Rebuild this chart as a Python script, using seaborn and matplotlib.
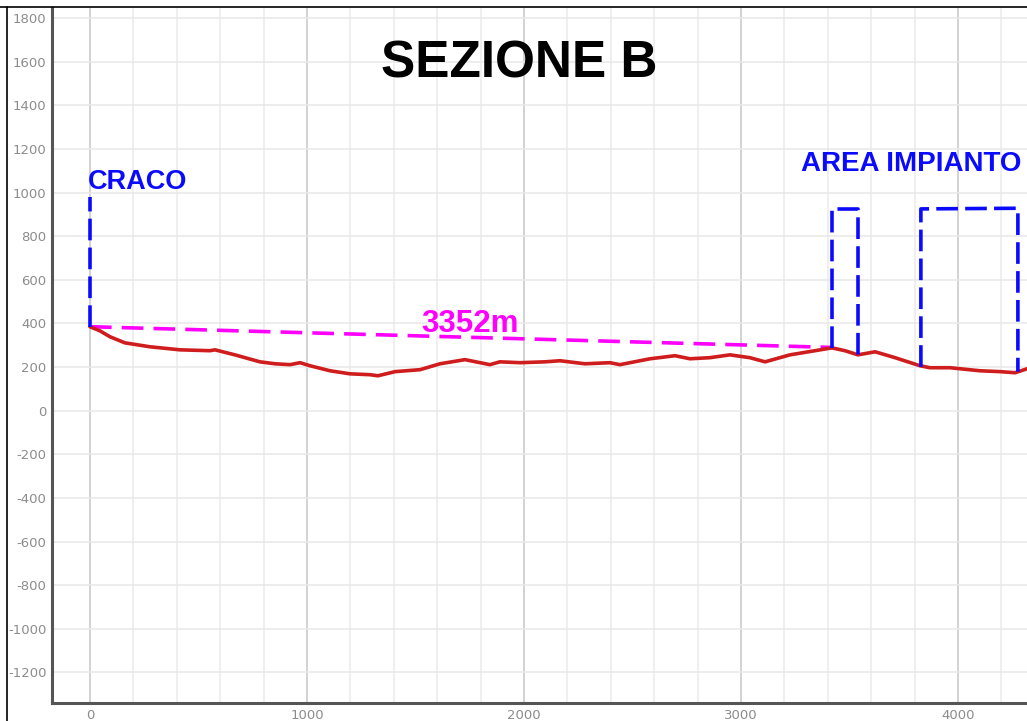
import matplotlib.pyplot as plt
import matplotlib.lines as mlines
import numpy as np
import pandas as pd
import seaborn as sns

# Terrain profile (distance in m, elevation in m).
distance = [0, 46, 92, 161, 276, 415, 553, 576, 668, 783, 853, 922, 968, 1014,
            1106, 1198, 1290, 1327, 1406, 1521, 1613, 1728, 1843, 1889, 1982,
            2097, 2166, 2281, 2396, 2442, 2581, 2696, 2765, 2857, 2949, 3041,
            3111, 3226, 3341, 3419, 3479, 3539, 3618, 3710, 3825, 3871, 3963,
            4101, 4194, 4263, 4318]
elevation = [385, 366, 339, 311, 293, 279, 275, 279, 256, 224, 215, 211, 220, 206,
             183, 169, 165, 160, 179, 188, 215, 234, 211, 224, 220,
             224, 229, 215, 220, 211, 238, 252, 238, 243, 256, 243,
             224, 256, 275, 288, 275, 256, 270, 243, 206, 197, 197,
             183, 179, 174, 192]

# Straight-line distance marker from Craco to the plant area.
dist_x = [0, 3419]
dist_y = [385, 290]
dist_label = "3352m"

# Craco marker and the two plant-area boxes.
craco_x = [0, 0]
craco_y = [385, 980]
box1_x = [3419, 3419, 3539, 3539]
box1_y = [288, 925, 925, 256]
box2_x = [3829, 3829, 4276, 4276]
box2_y = [201, 925, 928, 179]

x_ticks = [0, 1000, 2000, 3000, 4000]
y_ticks = list(range(-1200, 1801, 200))

sns.set_style("white")
plt.rcParams["font.family"] = ["DejaVu Sans"]
plt.rcParams["axes.unicode_minus"] = False

fig = plt.figure(figsize=(10.27, 7.21), dpi=100)
ax = fig.add_axes([52 / 1027, 18 / 721, 1 - 52 / 1027, 1 - 26 / 721])

# Grid: light minor lines every 200, darker verticals every 1000.
for gx in range(-200, 4401, 200):
    col = "#c6c6c6" if gx % 1000 == 0 else "#ebebeb"
    ax.axvline(gx, color=col, lw=1.1, zorder=0)
for gy in y_ticks:
    ax.axhline(gy, color="#e8e8e8", lw=1.1, zorder=0)

profile = pd.DataFrame({"distance": distance, "elevation": elevation})
sns.lineplot(data=profile, x="distance", y="elevation", ax=ax,
             color="#cf1c1c", lw=2.6, sort=False, zorder=4)

ax.plot(dist_x, dist_y, color="#ff00ff", lw=2.6, dashes=(6, 2.8), zorder=3)
ax.plot(craco_x, craco_y, color="#0a0aff", lw=2.6, dashes=(6, 2), zorder=5)
ax.plot(box1_x, box1_y, color="#0a0aff", lw=2.6, dashes=(6, 2), zorder=5)
ax.plot(box2_x, box2_y, color="#0a0aff", lw=2.6, dashes=(6, 2), zorder=5)

ax.text(1980, 1590, "SEZIONE B", fontsize=37, fontweight="bold",
        family="Liberation Sans", ha="center", va="center", color="black")
ax.text(-10, 1050, "CRACO", fontsize=19.5, fontweight="bold",
        family="Liberation Sans", ha="left", va="center", color="#0a0aff")
ax.text(4294, 1130, "AREA IMPIANTO", fontsize=20, fontweight="bold",
        family="Liberation Sans", ha="right", va="center", color="#0a0aff")
ax.text(1528, 398, dist_label, fontsize=22.5, fontweight="bold",
        family="Liberation Sans", ha="left", va="center", color="#ff00ff")

ax.set_xlim(-175, 4318)
ax.set_ylim(-1340, 1846)
ax.set_xticks(x_ticks)
ax.set_yticks(y_ticks)
ax.tick_params(axis="both", length=0, labelsize=9.5, labelcolor="#8c8c8c")
ax.tick_params(axis="y", pad=4)
ax.tick_params(axis="x", pad=4)
ax.set_xlabel("")
ax.set_ylabel("")

for side in ["top", "right"]:
    ax.spines[side].set_visible(False)
for side in ["left", "bottom"]:
    ax.spines[side].set_color("#555555")
    ax.spines[side].set_linewidth(2.2)

# Outer frame lines of the drawing sheet.
fig.add_artist(mlines.Line2D([0, 1], [1 - 7 / 721, 1 - 7 / 721],
                             color="black", lw=1.2, transform=fig.transFigure))
fig.add_artist(mlines.Line2D([7 / 1027, 7 / 1027], [0, 1 - 7 / 721],
                             color="black", lw=1.2, transform=fig.transFigure))

fig.savefig("out.png", dpi=100)
plt.close(fig)
